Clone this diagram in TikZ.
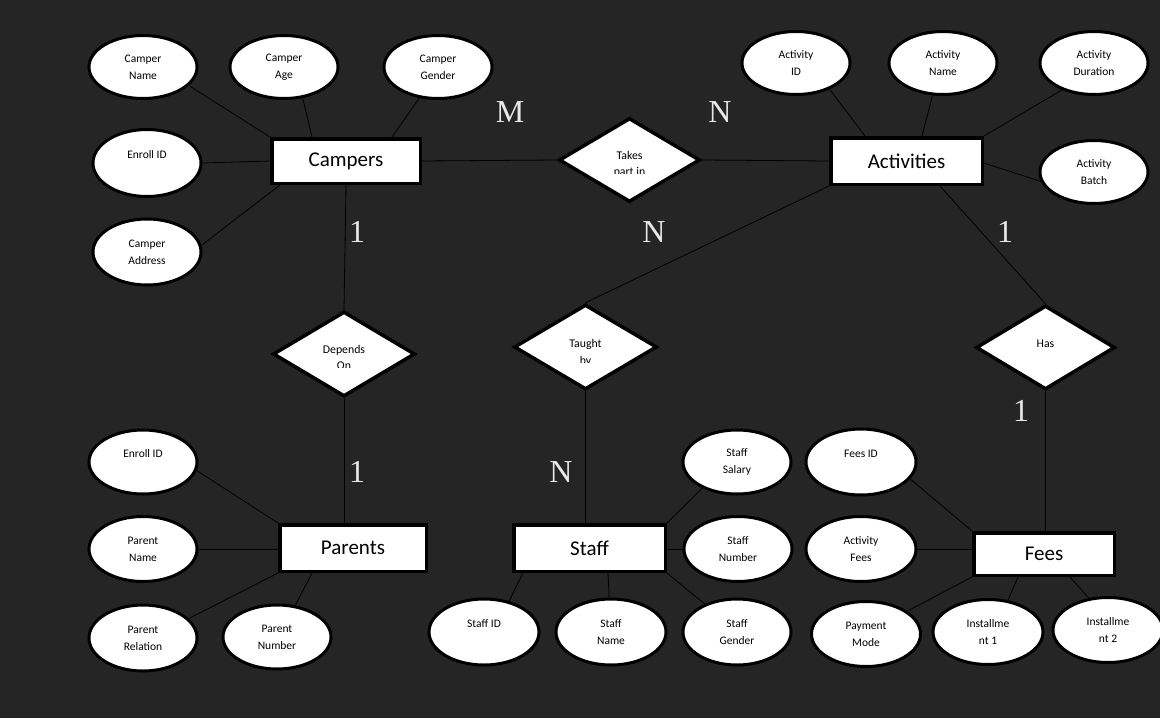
\documentclass[tikz,border=0pt]{standalone}
\usepackage{fontspec}
\setmainfont{Carlito}
\newfontfamily\cardfont{Liberation Serif}
\usetikzlibrary{shapes.geometric,calc}
\definecolor{bg}{RGB}{37,37,37}
\definecolor{cardc}{RGB}{232,232,232}
\begin{document}
\begin{tikzpicture}[x=1pt,y=-1pt,
  attr/.style={ellipse,draw=black,fill=white,line width=3pt,minimum width=108pt,minimum height=64pt,inner sep=0pt,align=center,font=\fontsize{11.5}{17}\selectfont},
  ent/.style={rectangle,draw=black,fill=white,line width=3.5pt,inner sep=0pt,font=\fontsize{21}{24}\selectfont},
  rel/.style={diamond,draw=black,fill=white,line width=3.5pt,inner sep=0pt},
  reltext/.style={anchor=base,inner sep=0pt,font=\fontsize{11.8}{17}\selectfont},
  card/.style={font=\cardfont\fontsize{32}{36}\selectfont,text=cardc,inner sep=0pt},
  conn/.style={draw=black,line width=0.8pt}]
\useasboundingbox (0,0) rectangle (1160,718);
\fill[bg] (0,0) rectangle (1160,718);

% entities
\node[ent,minimum width=148.5pt,minimum height=44.5pt] (campers) at (346,161) {Campers};
\node[ent,minimum width=151.5pt,minimum height=46.5pt] (activities) at (906.5,161) {Activities};
\node[ent,minimum width=146.5pt,minimum height=46.5pt] (parents) at (353,548) {Parents};
\node[ent,minimum width=151.5pt,minimum height=46.5pt] (staff) at (589.5,548) {Staff};
\node[ent,minimum width=140.5pt,minimum height=42.5pt] (fees) at (1044,554) {Fees};

% relationships
\node[rel,minimum width=141pt,minimum height=84pt] (takes) at (629.5,160) {};
\node[rel,minimum width=142pt,minimum height=85pt] (depends) at (344,354) {};
\node[rel,minimum width=143pt,minimum height=85pt] (taught) at (585.5,347) {};
\node[rel,minimum width=139pt,minimum height=84pt] (has) at (1045.5,347.5) {};
\begin{scope}
  \clip (560,130) rectangle (700,173.4);
  \node[reltext] (takesA) at (629.5,159.5) {Takes};
  \node[reltext] (takesB) at (629.5,175.5) {part in};
\end{scope}
\begin{scope}
  \clip (280,320) rectangle (410,367.3);
  \node[reltext] (dependsA) at (344,353) {Depends};
  \node[reltext] (dependsB) at (344,369.5) {On};
\end{scope}
\begin{scope}
  \clip (520,320) rectangle (650,362);
  \node[reltext] (taughtA) at (585.5,347.3) {Taught};
  \node[reltext] (taughtB) at (585.5,364.5) {by};
\end{scope}
\node[reltext] (hastxt) at (1045.5,347) {Has};

% attributes
\node[attr,minimum height=63pt] (cname) at (143,67) {Camper\\Name};
\node[attr,minimum height=63pt] (cage) at (284,67) {Camper\\Age};
\node[attr,minimum height=63pt] (cgender) at (438,67) {Camper\\Gender};
\node[attr,minimum height=67pt] (cenroll) at (147,163) {Enroll ID\\\mbox{}};
\node[attr,minimum height=66pt] (caddr) at (147,252) {Camper\\Address};
\node[attr,minimum height=63pt] (aid) at (796,63) {Activity\\ID};
\node[attr,minimum height=63pt] (aname) at (943,63) {Activity\\Name};
\node[attr,minimum height=63pt] (adur) at (1094,63) {Activity\\Duration};
\node[attr,minimum height=63pt] (abatch) at (1094,172) {Activity\\Batch};
\node[attr] (penroll) at (143,462) {Enroll ID\\\mbox{}};
\node[attr,minimum height=65pt] (pname) at (143,549) {Parent\\Name};
\node[attr,minimum height=66pt] (prel) at (143,638) {Parent\\Relation};
\node[attr] (pnum) at (277,637) {Parent\\Number};
\node[attr] (ssal) at (737,462) {Staff\\Salary};
\node[attr,minimum height=65pt] (snum) at (738,549) {Staff\\Number};
\node[attr,minimum width=110pt,minimum height=66pt] (sid) at (484,632) {Staff ID\\\mbox{}};
\node[attr,minimum width=110pt,minimum height=66pt] (sname) at (611,632) {Staff\\Name};
\node[attr,minimum height=66pt] (sgen) at (737,632) {Staff\\Gender};
\node[attr,minimum width=110pt,minimum height=66pt] (fid) at (861,462) {Fees ID\\\mbox{}};
\node[attr,minimum width=110pt,minimum height=65pt] (afees) at (861,549) {Activity\\Fees};
\node[attr,minimum width=109pt,minimum height=65pt] (pmode) at (866,634) {Payment\\Mode};
\node[attr,minimum width=110pt,minimum height=65pt] (inst1) at (988,632) {Installme\\nt 1};
\node[attr,minimum width=110pt,minimum height=65pt] (inst2) at (1108,630) {Installme\\nt 2};

% connectors: relationships
\draw[conn] (campers.east) -- (takes.west);
\draw[conn] (takes.east) -- (activities.west);
\draw[conn] (activities.south west) -- (taught.north);
\draw[conn] ($(activities.south west)+(111,0)$) -- (has.north);
\draw[conn] (campers.south) -- (depends.north);
\draw[conn] (depends.south) -- (depends.south |- parents.north);
\draw[conn] (taught.south) -- (taught.south |- staff.north);
\draw[conn] (has.south) -- (has.south |- fees.north);

% connectors: Campers attributes
\draw[conn] (cname.-22) -- (campers.north west);
\draw[conn] (cage.-59) -- ($(campers.north west)+(42,0)$);
\draw[conn] (cgender.-121) -- ($(campers.north east)+(-30,0)$);
\draw[conn] (cenroll.east) -- (campers.west);
\draw[conn] (caddr.7) -- ($(campers.south west)+(10,0)$);

% Activities attributes
\draw[conn] (aid.-38) -- ($(activities.north west)+(36,0)$);
\draw[conn] (aname.-108) -- ($(activities.north west)+(93,0)$);
\draw[conn] (adur.-140) -- (activities.north east);
\draw[conn] (abatch.190) -- ($(activities.east)+(0,2)$);

% Parents attributes
\draw[conn] (penroll.-9) -- (parents.north west);
\draw[conn] (pname.east) -- (pname.east -| parents.west);
\draw[conn] (prel.23) -- (parents.south west);
\draw[conn] (pnum.60) -- ($(parents.south west)+(34,0)$);

% Staff attributes
\draw[conn] (ssal.-143) -- (staff.north east);
\draw[conn] (snum.west) -- (snum.west -| staff.east);
\draw[conn] (sid.51) -- ($(staff.south west)+(11,0)$);
\draw[conn] (sname.93) -- ($(staff.south west)+(96,0)$);
\draw[conn] (sgen.139) -- (staff.south east);

% Fees attributes
\draw[conn] (fid.-19) -- (fees.north west);
\draw[conn] (afees.east) -- (afees.east -| fees.west);
\draw[conn] (pmode.29) -- (fees.south west);
\draw[conn] (inst1.58) -- ($(fees.south west)+(46,0)$);
\draw[conn] (inst2.121) -- ($(fees.south west)+(98,0)$);

% cardinalities
\node[card] (cM) at (510,112) {M};
\node[card] (cN1) at (720,112) {N};
\node[card] (cN2) at (654,232) {N};
\node[card] (c11) at (357,232) {1};
\node[card] (c12) at (1005,232) {1};
\node[card] (c13) at (357,472) {1};
\node[card] (cN3) at (561,472) {N};
\node[card] (c14) at (1021,411) {1};
\end{tikzpicture}
\end{document}
